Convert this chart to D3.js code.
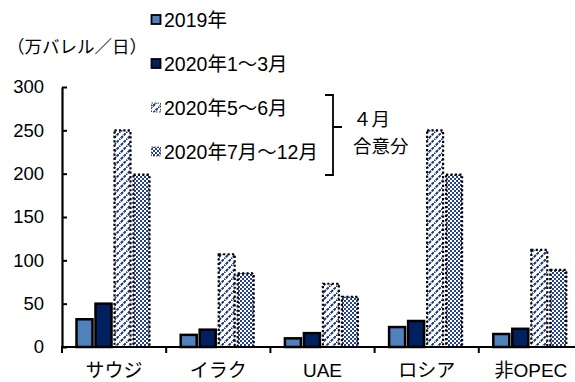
<!DOCTYPE html>
<html><head><meta charset="utf-8">
<script src="https://cdn.jsdelivr.net/npm/d3@7"></script>
<style>
html,body{margin:0;padding:0;background:#fff;}
svg{display:block;}
text{font-family:"Liberation Sans","Noto Sans CJK JP",sans-serif;fill:#000;}
</style></head>
<body><svg id="c" width="575" height="382"></svg>
<script>
const categories = ["サウジ","イラク","UAE","ロシア","非OPEC"];
const seriesNames = ["2019年","2020年1～3月","2020年5～6月","2020年7月～12月"];
const v2019 = [32, 14, 10, 23, 15];
const vQ1 = [50, 20, 16, 30, 21];
const vMayJun = [250, 107, 73, 250, 112];
const vJulDec = [199, 85, 58, 199, 89];
const yTicks = [0, 50, 100, 150, 200, 250, 300];
const unitLabel = "（万バレル／日）";
const bracketLabel = ["４月", "合意分"];

const seriesValues = [v2019, vQ1, vMayJun, vJulDec];
const svg = d3.select("#c");
const defs = svg.append("defs");

// hatch pattern (diagonal /)
const ph = defs.append("pattern").attr("id","hatch").attr("patternUnits","userSpaceOnUse")
  .attr("width",7).attr("height",7);
ph.append("rect").attr("width",7).attr("height",7).attr("fill","#fff");
ph.append("path").attr("d","M-1,8 L8,-1").attr("stroke","#1a357a").attr("stroke-width",2)
  .attr("stroke-dasharray","3,1");
// checker pattern
const pc = defs.append("pattern").attr("id","check").attr("patternUnits","userSpaceOnUse")
  .attr("width",4).attr("height",4);
pc.append("rect").attr("width",4).attr("height",4).attr("fill","#fff");
pc.append("rect").attr("width",2).attr("height",2).attr("fill","#24418a");
pc.append("rect").attr("x",2).attr("y",2).attr("width",2).attr("height",2).attr("fill","#24418a");

const fills = ["#4f81bd", "#002060", "url(#hatch)", "url(#check)"];
const dashed = [false, false, true, true];

const x0 = d3.scaleBand().domain(categories).range([62, 583]).padding(0);
const x1 = d3.scaleBand().domain(seriesNames).range([14.5, 87.5]).paddingInner(3/19).paddingOuter(0);
const y = d3.scaleLinear().domain([0, 300]).range([347, 87]);

// bars
seriesNames.forEach((s, si) => {
  svg.append("g").selectAll("rect").data(categories).join("rect")
    .attr("x", c => x0(c) + x1(s))
    .attr("y", (c, i) => y(seriesValues[si][i]))
    .attr("width", x1.bandwidth())
    .attr("height", (c, i) => y(0) - y(seriesValues[si][i]))
    .attr("fill", fills[si])
    .attr("stroke", "#000")
    .attr("stroke-width", dashed[si] ? 2.2 : 2.5)
    .attr("stroke-dasharray", dashed[si] ? "2.2,2.2" : null);
});

// y axis
const ya = svg.append("g").attr("transform","translate(62,0)")
  .call(d3.axisLeft(y).tickValues(yTicks).tickSizeInner(-5).tickSizeOuter(0).tickPadding(18));
ya.select(".domain").attr("stroke","#000").attr("stroke-width",2.2);
ya.selectAll(".tick line").attr("stroke","#000").attr("stroke-width",2);
ya.selectAll(".tick text").attr("font-size",18.5).style("font-family",'"Liberation Sans","Noto Sans CJK JP",sans-serif');

// x axis
const xa = svg.append("g").attr("transform","translate(0,347)");
xa.append("line").attr("x1",61).attr("x2",583).attr("stroke","#000").attr("stroke-width",2.2);
xa.selectAll("line.t").data(categories).join("line").attr("class","t")
  .attr("x1", c => x0(c)).attr("x2", c => x0(c)).attr("y1",0).attr("y2",6)
  .attr("stroke","#000").attr("stroke-width",2);
xa.selectAll("text").data(categories).join("text")
  .attr("x", c => x0(c) + x0.bandwidth()/2).attr("y", 30)
  .attr("text-anchor","middle").attr("font-size",19).text(c => c);

// unit label
svg.append("text").attr("x",7).attr("y",53).attr("font-size",17.5).text(unitLabel);

// legend
const legY = [20, 64, 108, 152];
seriesNames.forEach((s, si) => {
  const g = svg.append("g").attr("transform", `translate(151,${legY[si]})`);
  g.append("rect").attr("x",0.5).attr("y",-5).attr("width",9).attr("height",9)
    .attr("fill", fills[si]).attr("stroke", dashed[si] ? "#444" : "#000")
    .attr("stroke-width", dashed[si] ? 1 : 1.8)
    .attr("stroke-dasharray", dashed[si] ? "1.5,1.5" : null);
  g.append("text").attr("x",13).attr("y",7).attr("font-size",19.5).text(s);
});

// bracket
svg.append("path").attr("d","M325,95 L333,95 L333,175 L325,175 M333,127 L342,127")
  .attr("fill","none").attr("stroke","#000").attr("stroke-width",1.8);
svg.append("text").attr("x",353).attr("y",126).attr("font-size",18.5).text(bracketLabel[0]);
svg.append("text").attr("x",353).attr("y",153).attr("font-size",18.5).text(bracketLabel[1]);
</script></body></html>
